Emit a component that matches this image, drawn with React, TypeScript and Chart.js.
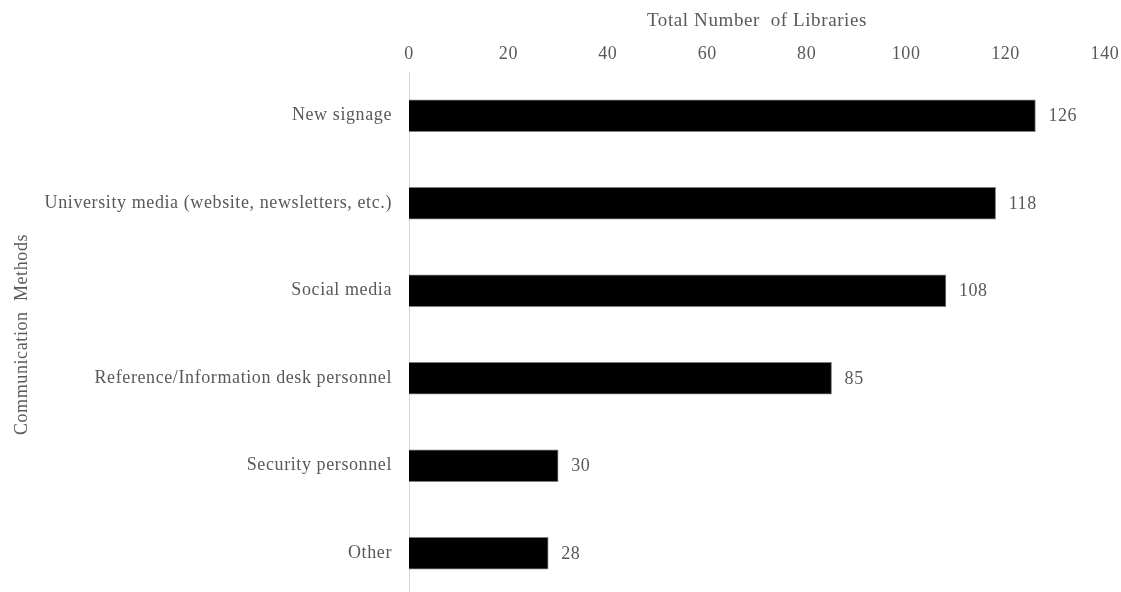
import React, { useEffect, useRef } from "react";
import { Chart, registerables } from "chart.js";

Chart.register(...registerables);

const categories = [
  "New signage",
  "University media (website, newsletters, etc.)",
  "Social media",
  "Reference/Information desk personnel",
  "Security personnel",
  "Other",
];
const values = [126, 118, 108, 85, 30, 28];
const xTitle = "Total Number  of Libraries";
const yTitle = "Communication  Methods";
const xMin = 0;
const xMax = 140;
const xStep = 20;

const FONT = "'Liberation Serif', 'Times New Roman', serif";
const TEXT = "#595959";
const SPACING = "0.6px";

const spacingPlugin = {
  id: "letterSpacing",
  beforeInit(chart: any) {
    chart.ctx.letterSpacing = SPACING;
  },
  beforeDraw(chart: any) {
    chart.ctx.letterSpacing = SPACING;
  },
};

const labelPlugin = {
  id: "barValueLabels",
  afterDatasetsDraw(chart: any) {
    const { ctx } = chart;
    const meta = chart.getDatasetMeta(0);
    ctx.save();
    ctx.letterSpacing = SPACING;
    ctx.font = `18px ${FONT}`;
    ctx.fillStyle = TEXT;
    ctx.textAlign = "left";
    ctx.textBaseline = "middle";
    meta.data.forEach((bar: any, i: number) => {
      ctx.fillText(String(values[i]), bar.x + 13, bar.y + 1);
    });
    ctx.restore();
  },
};

export default function App() {
  const ref = useRef<HTMLCanvasElement | null>(null);
  useEffect(() => {
    if (!ref.current) return;
    const chart = new Chart(ref.current, {
      type: "bar",
      data: {
        labels: categories,
        datasets: [
          {
            data: values,
            backgroundColor: "#000000",
            borderColor: "#7f7f7f",
            borderWidth: 1,
            barThickness: 32,
          },
        ],
      },
      options: {
        indexAxis: "y",
        animation: false,
        responsive: false,
        maintainAspectRatio: false,
        layout: { padding: { left: 0, right: 16, top: 0, bottom: 3 } },
        plugins: {
          legend: { display: false },
          tooltip: { enabled: false },
        },
        scales: {
          x: {
            position: "top",
            min: xMin,
            max: xMax,
            ticks: {
              stepSize: xStep,
              color: TEXT,
              font: { family: FONT, size: 18 },
              padding: 7,
            },
            grid: { display: false, drawTicks: false },
            border: { display: false },
            title: {
              display: true,
              text: xTitle,
              color: TEXT,
              font: { family: FONT, size: 19 },
              padding: { top: 10, bottom: 0 },
            },
            afterFit(scale: any) {
              scale.height = 72;
              scale.paddingLeft = 0;
              scale.paddingRight = 0;
            },
          },
          y: {
            ticks: {
              color: TEXT,
              font: { family: FONT, size: 18 },
              padding: 17,
            },
            grid: { display: false, drawTicks: false },
            border: { display: true, color: "#d9d9d9", width: 1 },
            title: {
              display: true,
              text: yTitle,
              color: TEXT,
              font: { family: FONT, size: 18 },
              padding: { top: 11, bottom: 0 },
            },
            afterFit(scale: any) {
              scale.width = 409;
              scale.paddingTop = 0;
              scale.paddingBottom = 0;
            },
          },
        },
      },
      plugins: [spacingPlugin, labelPlugin],
    });
    return () => chart.destroy();
  }, []);
  return (
    <div
      style={{
        position: "fixed",
        top: 0,
        left: 0,
        width: 1121,
        height: 592,
        overflow: "hidden",
        background: "#ffffff",
      }}
    >
      <canvas ref={ref} width={1121} height={600} style={{ display: "block" }} />
    </div>
  );
}
